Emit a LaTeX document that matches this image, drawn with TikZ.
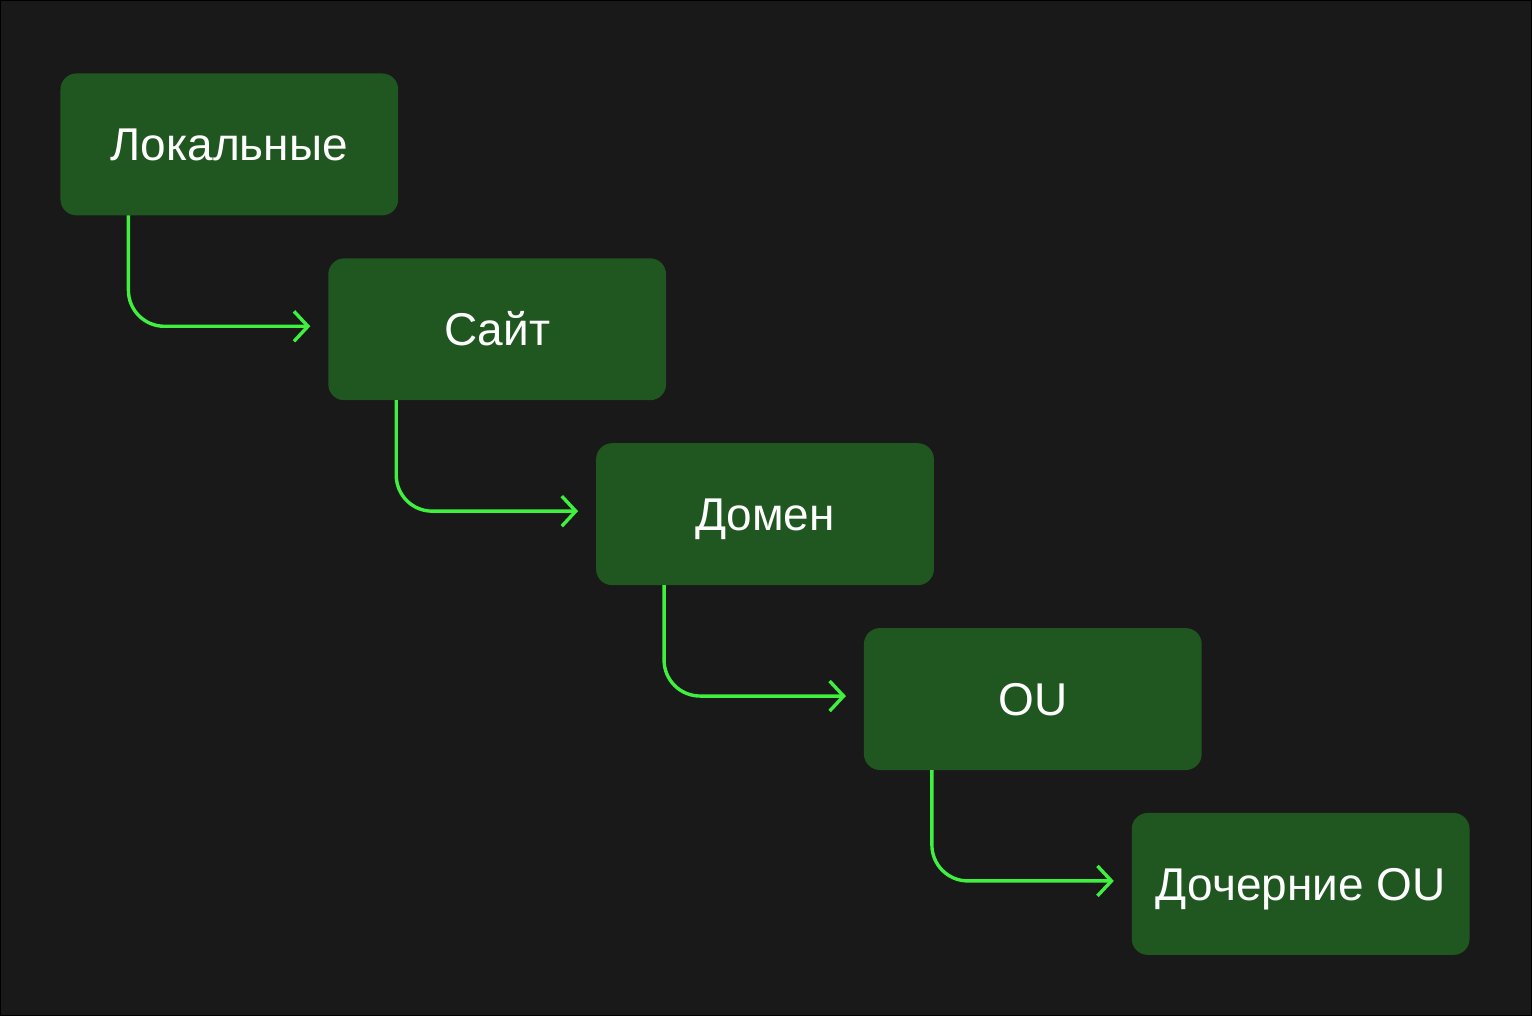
\documentclass[tikz,border=0pt]{standalone}
\usepackage{fontspec}
\setmainfont{Liberation Sans}
\usetikzlibrary{arrows.meta, positioning}
\definecolor{bg}{HTML}{191919}
\definecolor{boxgreen}{HTML}{205720}
\definecolor{linkgreen}{HTML}{3FF03F}
\tikzstyle{block} = [fill=boxgreen, rectangle, rounded corners=8pt,
    text=white, minimum width=169pt, minimum height=71pt,
    inner sep=0pt, outer sep=0pt, text height=16.5pt, text depth=0pt,
    font=\fontsize{23}{27}\selectfont]
\tikzstyle{link} = [draw=linkgreen, line width=1.7pt, rounded corners=18pt,
    shorten >=9pt]

\begin{document}
\begin{tikzpicture}[x=0.5pt, y=-0.5pt, node distance=21.5pt and -35pt,
    >={Straight Barb[length=7pt,width=15pt]}]
    \fill [bg, draw=black, line width=0.5pt] (0,0) rectangle (1532,1016);
    \useasboundingbox (0,0) rectangle (1532,1016);
    \node [block] (local) at (229,144) {Локальные};
    \node [block, below right=of local] (site) {Сайт};
    \node [block, below right=of site] (domain) {Домен};
    \node [block, below right=of domain] (ou) {OU};
    \node [block, below right=of ou] (childou) {Дочерние OU};
    \draw [link,->] ([xshift=34pt]local.south west) |- ([yshift=1.5pt]site.west);
    \draw [link,->] ([xshift=34pt]site.south west) |- ([yshift=1.5pt]domain.west);
    \draw [link,->] ([xshift=34pt]domain.south west) |- ([yshift=1.5pt]ou.west);
    \draw [link,->] ([xshift=34pt]ou.south west) |- ([yshift=1.5pt]childou.west);
\end{tikzpicture}
\end{document}
